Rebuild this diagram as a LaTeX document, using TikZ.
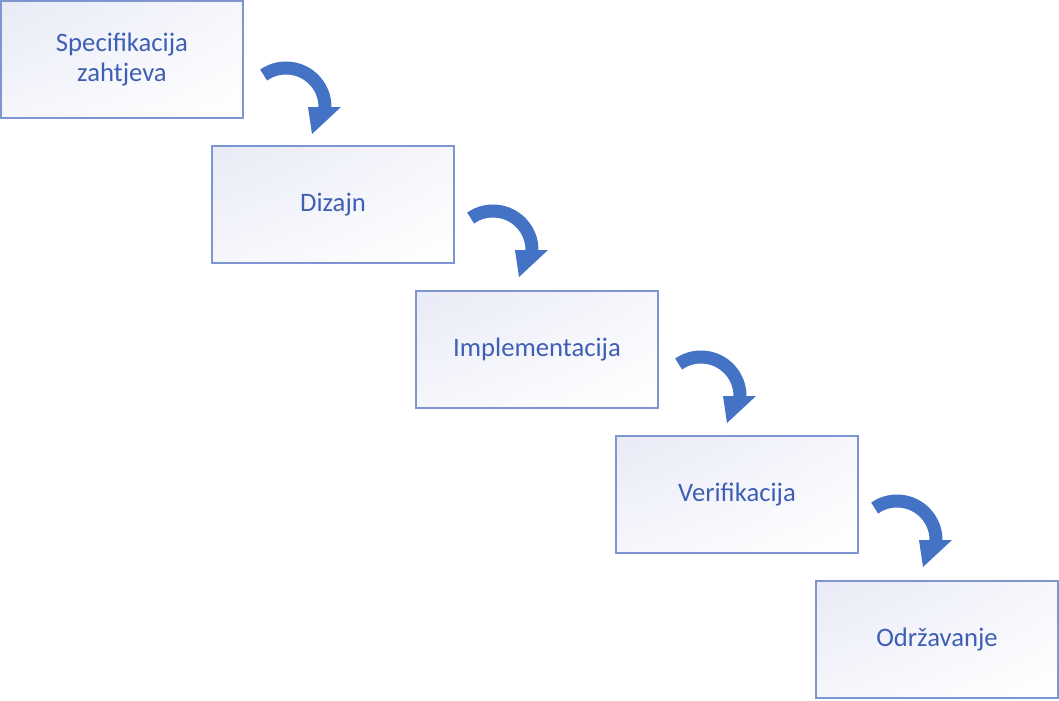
\documentclass[tikz,border=0pt]{standalone}
\usepackage{fontspec}
\setmainfont{Carlito}
\usetikzlibrary{calc,shadings}
\definecolor{arrowblue}{RGB}{68,114,196}
\definecolor{boxline}{RGB}{125,150,210}
\definecolor{boxtext}{RGB}{63,95,180}
\definecolor{shadeA}{RGB}{232,234,246}
\definecolor{shadeB}{RGB}{246,247,252}
\begin{document}
\begin{tikzpicture}[x=0.75pt,y=0.75pt,
  stepbox/.style={draw=boxline, line width=0.8pt,
    upper left=shadeA, upper right=shadeB, lower left=shadeB, lower right=white,
    minimum width=181.5pt, minimum height=87.75pt, inner sep=0pt, outer sep=0pt,
    text=boxtext, font=\fontsize{20}{22.5}\selectfont, align=center, text width=170pt},
  bendline/.style={line width=9.75pt, draw=arrowblue},
  bendarrow/.pic={
    \draw[bendline] (-44.37,31.95) arc[start angle=125, end angle=-3, radius=29.25pt];
    \fill[arrowblue] (0,0) -- (33,0) -- (4,-27) -- cycle;
  }]
\useasboundingbox (0,0) rectangle (1059,-700);
\node[stepbox] (s1) at (122,-59.5) {Specifikacija\\zahtjeva};
\node[stepbox] (s2) at (333,-204.5) {Dizajn};
\node[stepbox] (s3) at (537,-349.5) {Implementacija};
\node[stepbox] (s4) at (737,-494.5) {Verifikacija};
\node[stepbox] (s5) at (937,-639.5) {Održavanje};
\pic at ($(s1.east)+(65,-47.5)$) {bendarrow};
\pic at ($(s2.east)+(61,-45.5)$) {bendarrow};
\pic at ($(s3.east)+(65,-46.5)$) {bendarrow};
\pic at ($(s4.east)+(61,-45.5)$) {bendarrow};
\end{tikzpicture}
\end{document}
